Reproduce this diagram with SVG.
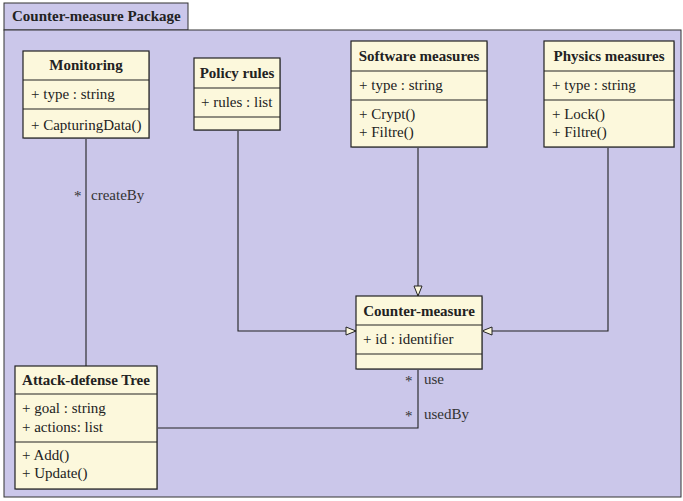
<svg xmlns="http://www.w3.org/2000/svg" width="683" height="501" viewBox="0 0 683 501">
<defs>
<style>
.pkg{fill:#cbc7ea;stroke:#333;stroke-width:1}
.box{fill:#fcf8dc;stroke:#222;stroke-width:1.2}
.sh{fill:#9a98ae}
.div{stroke:#222;stroke-width:1.2}
.t{font-family:'Liberation Serif','Times New Roman','DejaVu Serif','Noto Serif',serif;font-size:15px;fill:#222}
.b{font-weight:bold;text-anchor:middle}
.c{fill:none;stroke:#222;stroke-width:1.1}
.lab{font-family:'Liberation Serif','Times New Roman','DejaVu Serif','Noto Serif',serif;font-size:15px;fill:#333}
</style>
<marker id="tri" viewBox="0 0 12 10" refX="11" refY="5" markerWidth="12" markerHeight="10" markerUnits="userSpaceOnUse" orient="auto">
<path d="M1,1 L11,5 L1,9 Z" fill="#fcf8dc" stroke="#222" stroke-width="1"/>
</marker>
</defs>
<g id="package">
<rect class="pkg" x="4" y="3" width="184" height="27"/>
<rect class="pkg" x="4" y="30" width="677" height="467"/>
<text class="t" x="12" y="21" font-weight="bold">Counter-measure Package</text>
</g>
<g id="connectors">
<line class="c" x1="86" y1="139" x2="86" y2="366"/>
<polyline class="c" points="238,130 238,331 356,331" marker-end="url(#tri)"/>
<line class="c" x1="418" y1="147" x2="418" y2="296" marker-end="url(#tri)"/>
<polyline class="c" points="608,147 608,331 482,331" marker-end="url(#tri)"/>
<polyline class="c" points="418,369 418,428 157,428"/>
<text class="lab" x="74" y="201">*</text>
<text class="lab" x="91" y="200">createBy</text>
<text class="lab" x="405" y="386">*</text>
<text class="lab" x="424" y="384">use</text>
<text class="lab" x="405" y="421">*</text>
<text class="lab" x="424" y="419">usedBy</text>
</g>
<g id="monitoring">
<rect class="sh" x="24" y="52" width="126" height="87"/>
<rect class="box" x="23" y="51" width="126" height="87"/>
<line class="div" x1="23" y1="80" x2="149" y2="80"/>
<line class="div" x1="23" y1="109" x2="149" y2="109"/>
<text class="t b" x="86" y="70">Monitoring</text>
<text class="t" x="31" y="99">+ type : string</text>
<text class="t" x="31" y="130">+ CapturingData()</text>
</g>
<g id="policy-rules">
<rect class="sh" x="195" y="59" width="86" height="72"/>
<rect class="box" x="194" y="58" width="86" height="72"/>
<line class="div" x1="194" y1="88" x2="280" y2="88"/>
<line class="div" x1="194" y1="117" x2="280" y2="117"/>
<text class="t b" x="237" y="78">Policy rules</text>
<text class="t" x="201" y="107">+ rules : list</text>
</g>
<g id="software-measures">
<rect class="sh" x="352" y="42" width="136" height="106"/>
<rect class="box" x="351" y="41" width="136" height="106"/>
<line class="div" x1="351" y1="71" x2="487" y2="71"/>
<line class="div" x1="351" y1="100" x2="487" y2="100"/>
<text class="t b" x="419" y="61">Software measures</text>
<text class="t" x="359" y="90">+ type : string</text>
<text class="t" x="359" y="119">+ Crypt()</text>
<text class="t" x="359" y="137">+ Filtre()</text>
</g>
<g id="physics-measures">
<rect class="sh" x="545" y="42" width="130" height="106"/>
<rect class="box" x="544" y="41" width="130" height="106"/>
<line class="div" x1="544" y1="71" x2="674" y2="71"/>
<line class="div" x1="544" y1="100" x2="674" y2="100"/>
<text class="t b" x="609" y="61">Physics measures</text>
<text class="t" x="552" y="90">+ type : string</text>
<text class="t" x="552" y="119">+ Lock()</text>
<text class="t" x="552" y="137">+ Filtre()</text>
</g>
<g id="counter-measure">
<rect class="sh" x="357" y="297" width="126" height="73"/>
<rect class="box" x="356" y="296" width="126" height="73"/>
<line class="div" x1="356" y1="325" x2="482" y2="325"/>
<line class="div" x1="356" y1="354" x2="482" y2="354"/>
<text class="t b" x="419" y="316">Counter-measure</text>
<text class="t" x="363" y="344">+ id : identifier</text>
</g>
<g id="attack-defense-tree">
<rect class="sh" x="16" y="367" width="142" height="123"/>
<rect class="box" x="15" y="366" width="142" height="123"/>
<line class="div" x1="15" y1="394" x2="157" y2="394"/>
<line class="div" x1="15" y1="442" x2="157" y2="442"/>
<text class="t b" x="86" y="385">Attack-defense Tree</text>
<text class="t" x="22" y="413">+ goal : string</text>
<text class="t" x="22" y="432">+ actions: list</text>
<text class="t" x="22" y="460">+ Add()</text>
<text class="t" x="22" y="478">+ Update()</text>
</g>
</svg>
